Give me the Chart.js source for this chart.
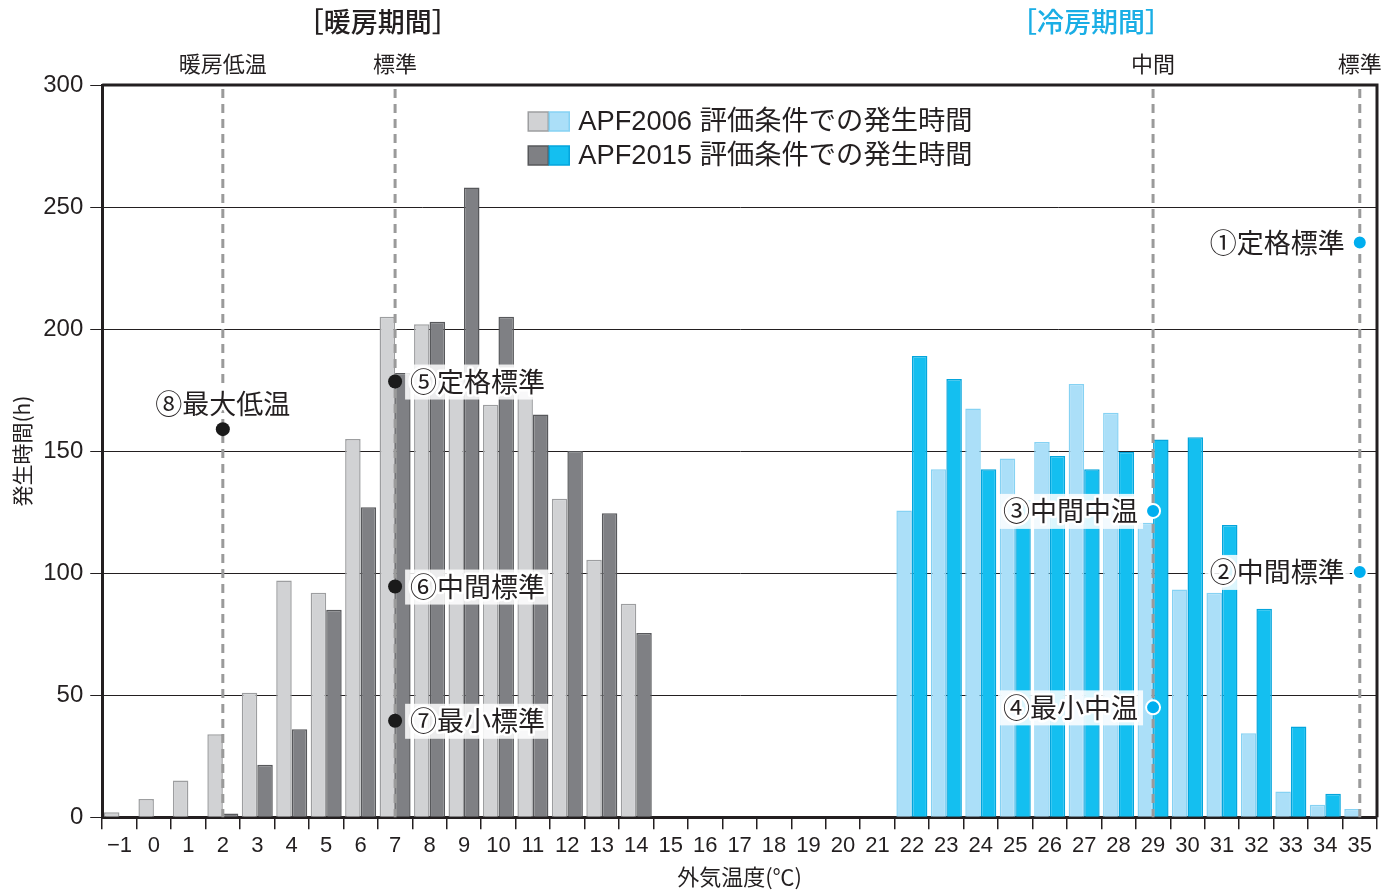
<!DOCTYPE html>
<html lang="ja">
<head>
<meta charset="utf-8">
<title>外気温度別の発生時間</title>
<script src="https://cdn.jsdelivr.net/npm/chart.js@4.4.1/dist/chart.umd.min.js"></script>
<style>
  html, body { margin: 0; padding: 0; background: #fff; }
  #wrap { position: relative; width: 1386px; height: 892px; }
</style>
</head>
<body>
<div id="wrap"><canvas id="chart"></canvas></div>
<script>
// outdoor temperature bins (°C)
const temps = [-1, 0, 1, 2, 3, 4, 5, 6, 7, 8, 9, 10, 11, 12, 13, 14, 15, 16, 17,
  18, 19, 20, 21, 22, 23, 24, 25, 26, 27, 28, 29, 30, 31, 32, 33, 34, 35];
const tempLabels = temps.map((t) => (t < 0 ? '\u2212' + Math.abs(t) : String(t)));

// hours per bin, heating up to 14°C, cooling from 22°C
const hours2006 = [2, 7.5, 15, 34, 51, 97, 92, 155, 205, 202, 180, 169, 176, 130.5, 105.5, 87.5,
  null, null, null, null, null, null, null,
  125.7, 142.6, 167.5, 147, 153.7, 177.5, 165.7, 120.6, 93.3, 92, 34.4, 10.5, 5.1, 3.4];
const hours2015 = [0, 0, 0, 1.5, 21.5, 36, 85, 127, 182, 203, 258, 205, 165, 150, 124.5, 75.5,
  null, null, null, null, null, null, null,
  189, 179.5, 142.6, 130, 148, 142.6, 149.7, 154.8, 155.7, 119.7, 85.4, 37.2, 9.6, 0];

const yTicks = [0, 50, 100, 150, 200, 250, 300];

// rating conditions
const refNames = ['①定格標準', '②中間標準', '③中間中温', '④最小中温',
  '⑤定格標準', '⑥中間標準', '⑦最小標準', '⑧最大低温'];
const refTemps = [35, 35, 29, 29, 7, 7, 7, 2];
const refHours = [235.5, 100.5, 125.5, 45, 178.5, 94.5, 39.5, 159];

// dashed marker lines along the top
const markerTemps = [2, 7, 29, 35];
const markerNames = ['暖房低温', '標準', '中間', '標準'];

const JP = "'Noto Sans CJK JP', sans-serif";
const LAT = "'Liberation Sans', 'Noto Sans CJK JP', sans-serif";
const INK = '#231f20';
const CYAN = '#1aaee5';

const isHeating = (t) => t <= 14;
const col = (heat, cool) => temps.map((t) => (isHeating(t) ? heat : cool));

const idxOf = (t) => temps.indexOf(t);

// placement of each condition label relative to its dot
const refPlace = ['left', 'left', 'left', 'left', 'right', 'right', 'right', 'above'];
const refBox = [false, true, true, true, true, true, true, false];

function drawLabel(ctx, text, x, y, align, boxed) {
  ctx.save();
  ctx.font = '27px ' + JP;
  ctx.textBaseline = 'middle';
  ctx.textAlign = align;
  const w = ctx.measureText(text).width;
  const left = align === 'left' ? x : align === 'right' ? x - w : x - w / 2;
  if (boxed) {
    ctx.fillStyle = 'rgba(255,255,255,0.85)';
    ctx.fillRect(left - 5, y - 17, w + 10, 35);
  }
  ctx.lineJoin = 'round';
  ctx.strokeStyle = '#fff';
  ctx.lineWidth = 5;
  ctx.strokeText(text, x, y);
  ctx.fillStyle = INK;
  ctx.fillText(text, x, y);
  ctx.restore();
}

const decor = {
  id: 'decor',
  beforeDatasetDraw(chart, args) {
    if (args.meta.type !== 'line') return;
    const { ctx, chartArea, scales } = chart;
    ctx.save();
    ctx.strokeStyle = '#9a9a9a';
    ctx.lineWidth = 3;
    ctx.setLineDash([9, 6]);
    markerTemps.forEach((t) => {
      const x = scales.x.getPixelForValue(idxOf(t));
      ctx.beginPath();
      ctx.moveTo(x, chartArea.top + 4);
      ctx.lineTo(x, chartArea.bottom);
      ctx.stroke();
    });
    ctx.restore();
  },
  afterDatasetsDraw(chart) {
    const { ctx, chartArea, scales } = chart;
    const x = scales.x;

    // frame: top and right edges
    ctx.save();
    ctx.strokeStyle = INK;
    ctx.lineWidth = 3;
    ctx.beginPath();
    ctx.moveTo(chartArea.left, chartArea.top);
    ctx.lineTo(chartArea.right, chartArea.top);
    ctx.lineTo(chartArea.right, chartArea.bottom);
    ctx.stroke();
    ctx.restore();

    // condition labels
    const pts = chart.getDatasetMeta(2).data;
    pts.forEach((p, i) => {
      const place = refPlace[i];
      if (place === 'above') drawLabel(ctx, refNames[i], p.x, p.y - 25, 'center', refBox[i]);
      else if (place === 'right') drawLabel(ctx, refNames[i], p.x + 15, p.y, 'left', refBox[i]);
      else drawLabel(ctx, refNames[i], p.x - 15, p.y, 'right', refBox[i]);
    });

    ctx.save();
    ctx.textAlign = 'center';
    ctx.textBaseline = 'middle';
    // marker names above the frame
    ctx.font = '22px ' + JP;
    ctx.fillStyle = INK;
    markerTemps.forEach((t, i) => {
      ctx.fillText(markerNames[i], x.getPixelForValue(idxOf(t)), chartArea.top - 21);
    });
    // season headings
    ctx.font = '500 27px ' + JP;
    ctx.fillText('［暖房期間］', x.getPixelForValue(idxOf(6) + 0.5), 22);
    ctx.fillStyle = CYAN;
    ctx.fillText('［冷房期間］', x.getPixelForValue(idxOf(27) + 0.2), 22);
    ctx.restore();

    // legend
    const lx = chartArea.left + 426;
    const rows = [
      { y: chartArea.top + 36, a: ['#d1d2d4', '#9d9ea0'], b: ['#abdff8', '#86d2f3'], text: 'APF2006 評価条件での発生時間' },
      { y: chartArea.top + 70, a: ['#7f8084', '#57585b'], b: ['#14bff0', '#05a5dc'], text: 'APF2015 評価条件での発生時間' },
    ];
    ctx.save();
    rows.forEach((r) => {
      ctx.lineWidth = 1.5;
      ctx.fillStyle = r.a[0]; ctx.strokeStyle = r.a[1];
      ctx.fillRect(lx, r.y - 9, 20, 19); ctx.strokeRect(lx, r.y - 9, 20, 19);
      ctx.fillStyle = r.b[0]; ctx.strokeStyle = r.b[1];
      ctx.fillRect(lx + 21, r.y - 9, 20, 19); ctx.strokeRect(lx + 21, r.y - 9, 20, 19);
      ctx.font = '27.3px ' + LAT;
      ctx.fillStyle = INK;
      ctx.textAlign = 'left';
      ctx.textBaseline = 'middle';
      ctx.fillText(r.text, lx + 50, r.y + 1);
    });
    ctx.restore();
  },
};

new Chart(document.getElementById('chart'), {
  type: 'bar',
  data: {
    labels: tempLabels,
    datasets: [
      {
        label: 'APF2006 評価条件での発生時間',
        data: hours2006,
        backgroundColor: col('#d1d2d4', '#abdff8'),
        borderColor: col('#9d9ea0', '#86d2f3'),
        borderWidth: 1.5,
        order: 2,
      },
      {
        label: 'APF2015 評価条件での発生時間',
        data: hours2015,
        backgroundColor: col('#7f8084', '#14bff0'),
        borderColor: col('#57585b', '#05a5dc'),
        borderWidth: 1.5,
        order: 2,
      },
      {
        type: 'line',
        label: '評価条件',
        data: refTemps.map((t, i) => ({ x: tempLabels[idxOf(t)], y: refHours[i] })),
        showLine: false,
        pointRadius: 7,
        pointHoverRadius: 7,
        pointBackgroundColor: refTemps.map((t) => (isHeating(t) ? '#1a1a1a' : '#00aeef')),
        pointBorderColor: refTemps.map((t) => (isHeating(t) ? '#1a1a1a' : '#ffffff')),
        pointBorderWidth: refTemps.map((t) => (isHeating(t) ? 0 : 2)),
        order: 1,
        clip: false,
      },
    ],
  },
  options: {
    responsive: true,
    maintainAspectRatio: false,
    animation: false,
    layout: { padding: { left: 9, right: 9, top: 85, bottom: 2 } },
    datasets: { bar: { categoryPercentage: 0.9, barPercentage: 1.0 } },
    plugins: {
      legend: { display: false },
      tooltip: { enabled: false },
    },
    scales: {
      x: {
        offset: true,
        grid: {
          offset: true,
          drawOnChartArea: false,
          drawTicks: true,
          tickLength: 12,
          color: INK,
          lineWidth: 1.5,
        },
        border: { display: true, color: INK, width: 3 },
        ticks: {
          color: INK,
          font: { family: LAT, size: 22 },
          padding: 4,
          maxRotation: 0,
          autoSkip: false,
        },
        title: {
          display: true,
          text: '外気温度(℃)',
          color: INK,
          font: { family: JP, size: 22 },
          padding: { top: 0, bottom: 0 },
        },
      },
      y: {
        min: 0,
        max: 300,
        afterBuildTicks: (scale) => { scale.ticks = yTicks.map((v) => ({ value: v })); },
        grid: {
          color: INK,
          lineWidth: 1,
          tickLength: 12,
        },
        border: { display: true, color: INK, width: 3 },
        ticks: {
          color: INK,
          font: { family: LAT, size: 24 },
          padding: 7,
        },
        title: {
          display: true,
          text: '発生時間(h)',
          color: INK,
          font: { family: JP, size: 21 },
          padding: { top: 0, bottom: 2 },
        },
      },
    },
  },
  plugins: [decor],
});
</script>
</body>
</html>
